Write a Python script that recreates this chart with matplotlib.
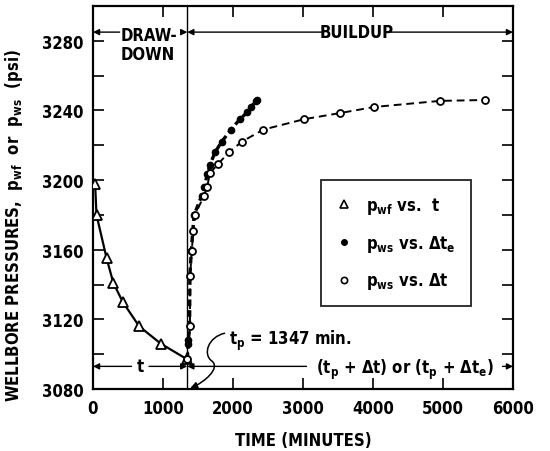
import matplotlib
matplotlib.use("Agg")
import matplotlib.pyplot as plt
from matplotlib import font_manager
from matplotlib.path import Path
from matplotlib.patches import FancyArrowPatch
from matplotlib.lines import Line2D
from matplotlib.ticker import MultipleLocator

# ---------------- data ----------------
tp = 1347
# drawdown: p_wf vs t
dd_t = [30, 50, 195, 290, 425, 660, 970, 1347]
dd_p = [3198, 3180, 3155, 3141, 3130, 3116, 3106, 3097]
# buildup: p_ws vs (tp + dt)  (open circles)
bu_open_t = [1347, 1385, 1388, 1410, 1433, 1457, 1585, 1630, 1671, 1781, 1943,
             2124, 2433, 3019, 3529, 4019, 4957, 5600]
bu_open_p = [3097, 3116, 3145, 3159, 3171, 3180, 3191, 3196, 3204, 3209, 3216,
             3222, 3229, 3235, 3238.5, 3242, 3245.5, 3246]
# buildup: p_ws vs (tp + dte)  (closed circles)
bu_closed_t = [1347, 1360, 1363, 1380, 1384, 1404, 1425, 1445, 1552, 1590, 1633,
               1671, 1743, 1838, 1971, 2100, 2204, 2257, 2330, 2347]
bu_closed_p = [3097, 3106, 3108, 3116, 3145, 3159, 3171, 3180, 3191, 3196, 3203.5,
               3208.7, 3216, 3222, 3229, 3235, 3239, 3242, 3245.5, 3246]
x_ticks = [0, 1000, 2000, 3000, 4000, 5000, 6000]
y_ticks = [3080, 3120, 3160, 3200, 3240, 3280]

# ---------------- fonts: look for a condensed bold face ----------------
cond = [f for f in font_manager.fontManager.ttflist
        if str(f.stretch) in ('condensed', 'semi-condensed', 'extra-condensed',
                              'ultra-condensed')
        or 'Narrow' in f.name or 'Condensed' in f.name]
pref = ['Liberation Sans Narrow', 'DejaVu Sans', 'Roboto Condensed', 'Roboto',
        'Noto Sans', 'Open Sans', 'Lato', 'Inter']
chosen = None
for p in pref:
    for f in cond:
        if f.name == p:
            chosen = f
            break
    if chosen:
        break
if chosen is None and cond:
    chosen = cond[0]

if chosen is not None:
    FAM = chosen.name
    STRETCH = str(chosen.stretch)
    FS = 12
else:
    FAM = 'DejaVu Sans'
    STRETCH = 'normal'
    FS = 10

plt.rcParams['font.family'] = [FAM, 'DejaVu Sans']
plt.rcParams['font.weight'] = 'bold'
plt.rcParams['font.stretch'] = STRETCH
plt.rcParams['mathtext.fontset'] = 'custom'
pat = FAM + ':bold'
plt.rcParams['mathtext.rm'] = pat
plt.rcParams['mathtext.it'] = pat
plt.rcParams['mathtext.bf'] = pat
plt.rcParams['mathtext.sf'] = pat

fig = plt.figure(figsize=(5.5, 4.52), dpi=100)
ax = fig.add_axes([93/550, 1-390/452, 420/550, 383/452])
ax.set_xlim(0, 6000)
ax.set_ylim(3080, 3300)

# series
ax.plot(dd_t, dd_p, color='black', lw=1.6, marker='^', ms=7, mfc='white',
        mec='black', mew=1.3, zorder=4)
ax.plot(bu_closed_t, bu_closed_p, color='black', lw=2.4, ls=(0, (2.0, 1.2)),
        marker='o', ms=4.5, mfc='black', mec='black', zorder=3)
ax.plot(bu_open_t, bu_open_p, color='black', lw=1.4, ls=(0, (4, 2.5)),
        marker='o', ms=5, mfc='white', mec='black', mew=1.3, zorder=4)

# vertical line at tp
ax.axvline(tp, color='black', lw=1.0, zorder=2)

# ticks
ax.set_xticks(x_ticks)
ax.set_yticks(y_ticks)
ax.yaxis.set_minor_locator(MultipleLocator(20))
ax.tick_params(which='both', direction='in', length=8, width=1.2,
               top=True, right=True, labelsize=FS, pad=7)
for s in ax.spines.values():
    s.set_linewidth(1.6)
for lab in ax.get_xticklabels() + ax.get_yticklabels():
    lab.set_fontweight('bold')

ax.set_xlabel('TIME (MINUTES)', fontsize=FS, fontweight='bold', labelpad=10)
ax.set_ylabel(r'WELLBORE PRESSURES,  p$_{\mathregular{wf}}$  or  p$_{\mathregular{ws}}$  (psi)',
              fontsize=FS, fontweight='bold')
ax.yaxis.set_label_coords((25 - 93) / 420, (390 - 226) / 383)

# ---------- top annotations ----------
ya = 3285
aprops = dict(arrowstyle='-|>', color='black', lw=1.0, mutation_scale=9,
              shrinkA=0, shrinkB=0)
ax.annotate('', xy=(0, ya), xytext=(380, ya), arrowprops=aprops)
ax.annotate('', xy=(tp, ya), xytext=(1270, ya), arrowprops=aprops)
ax.plot([1280, 1300], [ya, ya], color='black', lw=1.0)
ax.text(390, ya + 3.5, 'DRAW-\nDOWN', fontsize=FS, fontweight='bold', ha='left',
        va='top', linespacing=1.05)
ax.annotate('', xy=(tp, ya), xytext=(3300, ya), arrowprops=aprops)
ax.annotate('', xy=(6000, ya), xytext=(4250, ya), arrowprops=aprops)
ax.text(3770, ya, 'BUILDUP', fontsize=FS, fontweight='bold', ha='center', va='center')

# ---------- bottom annotations ----------
yb = 3093
ax.annotate('', xy=(0, yb), xytext=(550, yb), arrowprops=aprops)
ax.text(680, yb, 't', fontsize=FS, fontweight='bold', ha='center', va='center')
ax.annotate('', xy=(tp, yb), xytext=(800, yb), arrowprops=aprops)
ax.annotate('', xy=(tp, yb), xytext=(3050, yb), arrowprops=aprops)
ax.text(4460, yb - 1.2,
        r'(t$_{\mathregular{p}}$ + $\Delta$t) or (t$_{\mathregular{p}}$ + $\Delta$t$_{\mathregular{e}}$)',
        fontsize=FS, fontweight='bold', ha='center', va='center')
ax.annotate('', xy=(6000, yb), xytext=(5850, yb), arrowprops=aprops)

ax.text(1940, 3108, r't$_{\mathregular{p}}$ = 1347 min.', fontsize=FS,
        fontweight='bold', ha='left', va='center')
verts = [(1880, 3112), (1650, 3110), (1560, 3100), (1700, 3096),
         (1820, 3092), (1600, 3084), (1390, 3080.5)]
codes = [Path.MOVETO, Path.CURVE4, Path.CURVE4, Path.CURVE4,
         Path.CURVE4, Path.CURVE4, Path.CURVE4]
squig = FancyArrowPatch(path=Path(verts, codes), arrowstyle='-|>',
                        mutation_scale=10, color='black', lw=1.1,
                        transform=ax.transData, clip_on=False)
ax.add_patch(squig)

# ---------- legend ----------
handles = [
    Line2D([], [], ls='none', marker='^', ms=6, mfc='white', mec='black', mew=1.2),
    Line2D([], [], ls='none', marker='o', ms=4, mfc='black', mec='black'),
    Line2D([], [], ls='none', marker='o', ms=4.5, mfc='white', mec='black', mew=1.2),
]
labels = [r'p$_{\mathregular{wf}}$ vs.  t',
          r'p$_{\mathregular{ws}}$ vs. $\Delta$t$_{\mathregular{e}}$',
          r'p$_{\mathregular{ws}}$ vs. $\Delta$t']
leg = ax.legend(handles, labels, loc='upper left',
                bbox_to_anchor=((321-93)/420, (390-181)/383),
                fontsize=FS, frameon=True, fancybox=False, edgecolor='black',
                handlelength=1.0, handletextpad=0.8, labelspacing=1.0,
                borderpad=0.9, borderaxespad=0)
leg.get_frame().set_linewidth(1.4)
for t in leg.get_texts():
    t.set_fontweight('bold')

fig.savefig('out.png', dpi=100)
